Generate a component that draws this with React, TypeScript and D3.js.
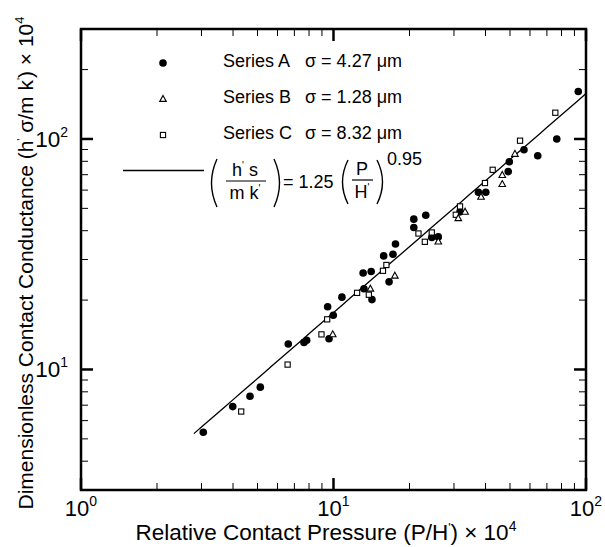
import * as d3 from 'd3';
import React from 'react';

// Series A (filled circles), sigma = 4.27 um
const seriesAx = [3.05, 3.99, 4.67, 5.13, 6.62, 7.64, 7.83, 9.6, 9.98, 9.48, 10.8, 13.2, 14.2, 13.1, 14.1, 16.6, 15.8, 17.2, 17.6, 20.8, 23.2, 20.8, 24.5, 26.0, 31.7, 37.5, 40.1, 49.7, 49.2, 56.8, 64.4, 76.6, 93.2];
const seriesAy = [5.34, 6.9, 7.65, 8.38, 12.9, 13.1, 13.4, 13.6, 17.2, 18.7, 20.6, 22.4, 20.1, 26.2, 26.6, 24.0, 31.1, 31.6, 35.0, 44.9, 46.7, 41.3, 37.4, 37.6, 48.3, 58.7, 58.7, 79.6, 72.2, 89.8, 84.6, 100, 160.6];

// Series B (open triangles), sigma = 1.28 um
const seriesBx = [9.93, 14.0, 17.5, 26.0, 31.2, 33.2, 38.4, 46.6, 46.6, 52.3];
const seriesBy = [14.2, 22.4, 25.5, 35.9, 45.3, 48.3, 56.1, 69.7, 63.7, 86.1];

// Series C (open squares), sigma = 8.32 um
const seriesCx = [4.31, 6.58, 8.96, 9.44, 12.4, 13.8, 15.7, 16.2, 21.7, 23.0, 24.5, 31.7, 30.5, 39.8, 42.7, 54.8, 75.6];
const seriesCy = [6.57, 10.5, 14.2, 16.5, 21.5, 21.1, 26.8, 28.4, 38.9, 35.8, 39.3, 51.0, 46.9, 64.4, 73.5, 98.3, 130];

// correlation (h's/mk') = 1.25 (P/H')^0.95, both axes scaled by 1e4
const fitCoef = 1.25;
const fitExp = 0.95;
const axisScale = 1e4;
const fitRange = [2.8, 100];

const xMajorTicks = [1, 10, 100];
const yMajorTicks = [10, 100];
const xTickLabels = ['0', '1', '2'];
const yTickLabels = ['1', '2'];

const legendNames = ['Series A', 'Series B', 'Series C'];
const legendSigmas = ['σ = 4.27 μm', 'σ = 1.28 μm', 'σ = 8.32 μm'];

const W = 605, H = 547;
const M = {l: 81, r: 19, t: 29, b: 57};
const FONT = 'Liberation Sans, Arial, Helvetica, sans-serif';

const x = d3.scaleLog().domain([1, 100]).range([M.l, W - M.r]);
const y = d3.scaleLog().domain([3, 300]).range([H - M.b, M.t]);

function Marker({kind, cx, cy}: {kind: string, cx: number, cy: number}) {
    if (kind === 'A') return <circle cx={cx} cy={cy} r={3.8} fill="#000" />;
    if (kind === 'B') {
        return <path d={`M${cx},${cy - 3.6}L${cx + 3.3},${cy + 2.4}L${cx - 3.3},${cy + 2.4}Z`}
            fill="#fff" stroke="#000" strokeWidth={1.1} />;
    }
    return <rect x={cx - 2.6} y={cy - 2.6} width={5.2} height={5.2} fill="#fff" stroke="#000" strokeWidth={1.1} />;
}

function paren(x0: number, yTop: number, yBot: number, dir: number) {
    // dir = -1 for "(" and +1 for ")"
    const mid = (yTop + yBot) / 2;
    return `M${x0},${yTop}Q${x0 + dir * 11},${mid} ${x0},${yBot}`;
}

export default function App() {
    const x0 = x.range()[0], x1 = x.range()[1];
    const y0 = y.range()[0], y1 = y.range()[1];

    const xMinor = x.ticks().filter((v) => !xMajorTicks.includes(v));
    const yMinor = y.ticks().filter((v) => !yMajorTicks.includes(v) && v > 3 && v < 300);

    const k = fitCoef * Math.pow(axisScale, 1 - fitExp);
    const fitPts = d3.range(0, 51).map((i) => {
        const px = fitRange[0] * Math.pow(fitRange[1] / fitRange[0], i / 50);
        return [px, k * Math.pow(px, fitExp)];
    });
    const line = d3.line<number[]>().x((d) => x(d[0])).y((d) => y(d[1]));

    const series = [
        {kind: 'A', xs: seriesAx, ys: seriesAy},
        {kind: 'C', xs: seriesCx, ys: seriesCy},
        {kind: 'B', xs: seriesBx, ys: seriesBy},
    ];

    const legendY = [63, 99, 135];

    return (
        <svg width={W} height={H} style={{position: 'absolute', left: 0, top: 0, background: '#fff'}}
            fontFamily={FONT}>
            <rect width={W} height={H} fill="#fff" />

            {/* ticks, all four sides, pointing inwards */}
            <g stroke="#000">
                {xMinor.map((v) => (
                    <g key={'xm' + v} strokeWidth={1}>
                        <line x1={x(v)} x2={x(v)} y1={y0} y2={y0 - 7} />
                        <line x1={x(v)} x2={x(v)} y1={y1} y2={y1 + 7} />
                    </g>
                ))}
                {xMajorTicks.map((v) => (
                    <g key={'xM' + v} strokeWidth={2.5}>
                        <line x1={x(v)} x2={x(v)} y1={y0} y2={y0 - 12} />
                        <line x1={x(v)} x2={x(v)} y1={y1} y2={y1 + 12} />
                    </g>
                ))}
                {yMinor.map((v) => (
                    <g key={'ym' + v} strokeWidth={1}>
                        <line x1={x0} x2={x0 + 7} y1={y(v)} y2={y(v)} />
                        <line x1={x1} x2={x1 - 7} y1={y(v)} y2={y(v)} />
                    </g>
                ))}
                {yMajorTicks.map((v) => (
                    <g key={'yM' + v} strokeWidth={2.5}>
                        <line x1={x0} x2={x0 + 12} y1={y(v)} y2={y(v)} />
                        <line x1={x1} x2={x1 - 12} y1={y(v)} y2={y(v)} />
                    </g>
                ))}
            </g>
            <rect x={x0} y={y1} width={x1 - x0} height={y0 - y1} fill="none" stroke="#000" strokeWidth={2.5} />

            {/* tick labels */}
            {xMajorTicks.map((v, i) => (
                <text key={'xl' + v} x={x(v)} y={516} textAnchor="middle" fontSize={22}>
                    10<tspan dy={-10} fontSize={14}>{xTickLabels[i]}</tspan>
                </text>
            ))}
            {yMajorTicks.map((v, i) => (
                <text key={'yl' + v} x={68} y={y(v) + 8} textAnchor="end" fontSize={22.5}>
                    10<tspan dy={-10} fontSize={14}>{yTickLabels[i]}</tspan>
                </text>
            ))}

            {/* axis titles */}
            <text x={326} y={540} textAnchor="middle" fontSize={22.5}>
                Relative Contact Pressure (P/H<tspan dy={-8} fontSize={12}>'</tspan><tspan dy={8}>) × 10</tspan><tspan dy={-9} fontSize={14}>4</tspan>
            </text>
            <text transform="translate(33,263) rotate(-90)" textAnchor="middle" fontSize={21}>
                Dimensionless Contact Conductance (h<tspan dy={-8} fontSize={11}>'</tspan><tspan dy={8}> σ/m k</tspan><tspan dy={-8} fontSize={11}>'</tspan><tspan dy={8}>) × 10</tspan><tspan dy={-9} fontSize={13}>4</tspan>
            </text>

            {/* fitted line */}
            <path d={line(fitPts) || ''} fill="none" stroke="#000" strokeWidth={1.3} />

            {/* data */}
            {series.map((s) => s.xs.map((v, i) => (
                <Marker key={s.kind + i} kind={s.kind} cx={x(v)} cy={y(s.ys[i])} />
            )))}

            {/* legend */}
            {legendNames.map((n, i) => (
                <g key={n}>
                    <Marker kind={['A', 'B', 'C'][i]} cx={163} cy={legendY[i]} />
                    <text x={223} y={legendY[i] + 4} fontSize={18}>{n}</text>
                    <text x={305} y={legendY[i] + 4} fontSize={18}>{legendSigmas[i]}</text>
                </g>
            ))}
            <line x1={123} x2={204} y1={170.5} y2={170.5} stroke="#000" strokeWidth={1.3} />
            <g fontSize={18} fill="#000">
                <path d={paren(217, 159, 207, -1)} fill="none" stroke="#000" strokeWidth={1.4} />
                <text x={245} y={176} textAnchor="middle">h<tspan dy={-7} fontSize={10}>'</tspan><tspan dy={7}> s</tspan></text>
                <line x1={226} x2={266} y1={181} y2={181} stroke="#000" strokeWidth={1.2} />
                <text x={245} y={199} textAnchor="middle">m k<tspan dy={-7} fontSize={10}>'</tspan></text>
                <path d={paren(274, 159, 207, 1)} fill="none" stroke="#000" strokeWidth={1.4} />
                <text x={283} y={188}>= 1.25</text>
                <path d={paren(348, 160, 204, -1)} fill="none" stroke="#000" strokeWidth={1.4} />
                <text x={362} y={175} textAnchor="middle">P</text>
                <line x1={352} x2={373} y1={180} y2={180} stroke="#000" strokeWidth={1.2} />
                <text x={362} y={198} textAnchor="middle">H<tspan dy={-7} fontSize={10}>'</tspan></text>
                <path d={paren(377, 160, 204, 1)} fill="none" stroke="#000" strokeWidth={1.4} />
                <text x={387} y={165}>0.95</text>
            </g>
        </svg>
    );
}
